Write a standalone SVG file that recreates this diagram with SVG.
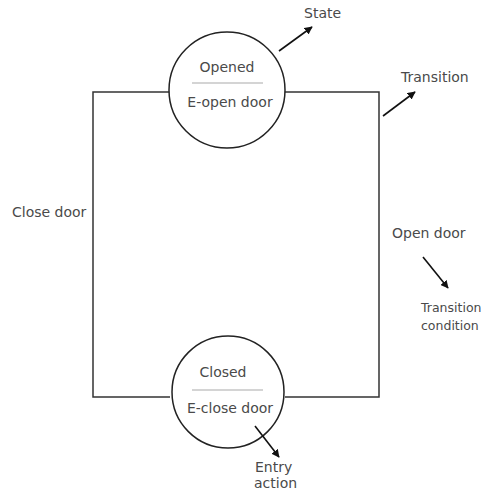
<svg xmlns="http://www.w3.org/2000/svg" width="487" height="494" viewBox="0 0 487 494">
<style>
text{font-family:"DejaVu Sans","Liberation Sans",sans-serif;font-size:14px;fill:#4a4a4a}
.c{text-anchor:middle}
.s{font-size:12.5px}
.edge{fill:none;stroke:#333;stroke-width:1.5}
.state{fill:#fff;stroke:#222;stroke-width:1.5}
.sep{stroke:#aaa;stroke-width:1.2}
.ptr{stroke:#111;stroke-width:1.6;marker-end:url(#ah)}
</style>
<defs>
<marker id="ah" viewBox="0 0 10 10" refX="9" refY="5" markerWidth="8" markerHeight="8" orient="auto" markerUnits="userSpaceOnUse">
<path d="M0,0L10,5L0,10z" fill="#111"/>
</marker>
</defs>
<g id="connectors">
<path class="edge" d="M170,92H93V397H170M285,397H379V92H285"/>
</g>
<g id="opened">
<circle class="state" cx="227" cy="90" r="58"/>
<line class="sep" x1="192" y1="83" x2="263" y2="83"/>
<text class="c" x="227" y="72">Opened</text>
<text class="c" x="230" y="107">E-open door</text>
</g>
<g id="closed">
<circle class="state" cx="228" cy="392" r="56"/>
<line class="sep" x1="192" y1="390" x2="263" y2="390"/>
<text class="c" x="223" y="377">Closed</text>
<text class="c" x="230" y="413">E-close door</text>
</g>
<g id="labels">
<text x="12" y="217">Close door</text>
<text x="392" y="238">Open door</text>
<line class="ptr" x1="279" y1="51" x2="312" y2="27"/>
<text x="304" y="18">State</text>
<line class="ptr" x1="383" y1="116" x2="415" y2="92"/>
<text x="401" y="82">Transition</text>
<line class="ptr" x1="423" y1="257" x2="448" y2="288"/>
<text class="s" x="421" y="312">Transition</text>
<text class="s" x="421" y="330">condition</text>
<line class="ptr" x1="255" y1="426" x2="279" y2="457"/>
<text x="255" y="472">Entry</text>
<text x="254" y="488">action</text>
</g>
</svg>
